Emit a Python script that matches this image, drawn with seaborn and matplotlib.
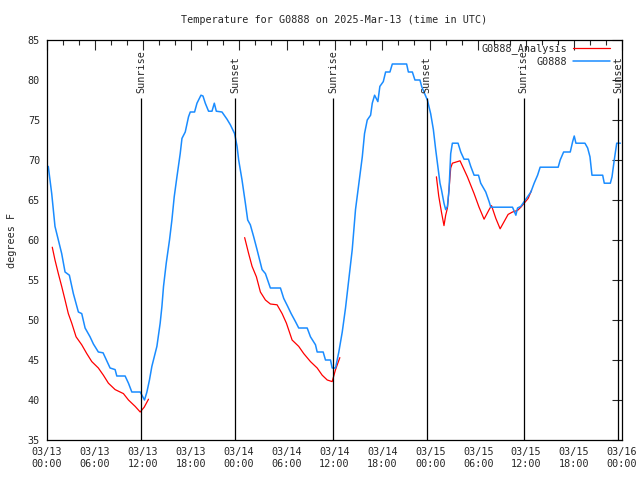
import numpy as np
import pandas as pd
import matplotlib
matplotlib.use("Agg")
import matplotlib.pyplot as plt
import matplotlib.dates as mdates
import seaborn as sns

# hours after 2025-03-13 00:00 UTC
station_hours = [0.16, 0.59, 1.0, 1.42, 1.84, 2.26, 2.8, 3.3, 3.93, 4.35, 4.77, 5.39, 5.81, 6.43, 7.02,
                 7.49, 7.9, 8.53, 8.74, 9.78, 10.2, 10.62, 11.67, 12.21, 12.51, 12.83, 13.13, 13.76,
                 14.17, 14.39, 14.59, 14.93, 15.34, 15.64, 15.93, 16.27, 16.68, 16.9, 17.31, 17.72,
                 17.94, 18.48, 18.78, 19.28, 19.53, 19.82, 20.23, 20.66, 20.95, 21.2, 21.91, 22.54,
                 22.96, 23.49, 23.8, 24.0, 24.42, 24.84, 25.13, 25.46, 25.88, 26.3, 26.93, 27.35,
                 27.63, 27.97, 29.23, 29.64, 30.14, 30.57, 31.11, 31.52, 32.58, 32.99, 33.62, 33.83,
                 34.58, 34.87, 35.5, 35.71, 36.13, 36.54, 36.97, 37.38, 37.8, 38.22, 38.63, 39.05,
                 39.48, 39.76, 40.1, 40.52, 40.73, 41.02, 41.43, 41.68, 42.11, 42.4, 42.94, 43.24,
                 45.03, 45.25, 45.75, 46.07, 46.7, 46.91, 47.2, 47.63, 48.04, 48.38, 48.67, 48.96,
                 49.21, 49.39, 49.71, 49.92, 50.14, 50.34, 50.55, 50.76, 51.47, 51.81, 52.22, 52.77,
                 53.06, 53.48, 54.03, 54.31, 54.94, 55.36, 55.57, 58.29, 58.71, 58.92, 59.33, 59.75,
                 60.17, 60.59, 61.0, 61.43, 61.75, 64.01, 64.26, 64.69, 65.52, 65.82, 66.02, 66.23,
                 67.36, 67.7, 67.99, 68.24, 69.58, 69.78, 70.54, 70.75, 71.03, 71.34, 71.79]
station_temp = [69.2, 65.8, 61.7, 60.0, 58.3, 56.0, 55.6, 53.3, 51.0, 50.8, 49.0, 47.9, 47.0, 46.0, 45.9,
                44.9, 44.0, 43.8, 43.0, 43.0, 42.1, 41.0, 41.0, 40.0, 41.0, 42.5, 44.2, 46.7,
                49.6, 51.7, 54.2, 57.1, 60.0, 62.5, 65.4, 67.9, 70.8, 72.7, 73.5, 75.4,
                76.0, 76.0, 77.1, 78.1, 78.0, 77.1, 76.1, 76.1, 77.1, 76.1, 76.0, 75.1,
                74.4, 73.3, 71.7, 70.0, 67.5, 64.6, 62.5, 61.9, 60.4, 58.8, 56.3, 55.8,
                55.0, 54.0, 54.0, 52.7, 51.7, 50.8, 49.8, 49.0, 49.0, 47.9, 46.9, 46.0,
                46.0, 45.0, 45.0, 44.0, 44.0, 46.0, 48.5, 51.5, 55.2, 58.8, 63.8, 67.1,
                70.4, 73.3, 75.0, 75.6, 77.1, 78.1, 77.3, 79.2, 79.8, 81.0, 81.0, 82.0,
                82.0, 81.0, 81.0, 80.0, 80.0, 79.2, 78.5, 77.5, 75.8, 73.8, 71.3, 69.0,
                67.1, 66.3, 64.6, 63.8, 64.2, 66.3, 70.8, 72.1, 72.1, 71.0, 70.1, 70.1,
                69.2, 68.1, 68.1, 67.1, 66.0, 64.8, 64.1, 64.1, 63.1, 64.0, 64.2, 64.8,
                65.4, 66.0, 67.1, 68.1, 69.1, 69.1, 70.0, 71.0, 71.0, 72.3, 73.0, 72.1,
                72.1, 71.5, 70.4, 68.1, 68.1, 67.1, 67.1, 67.9, 70.0, 72.1, 72.1]

# analysis series, three separate runs
analysis_hours = [
    [0.66, 1.0, 1.42, 1.84, 2.26, 2.67, 3.1, 3.64, 4.35, 4.98, 5.61, 6.43, 7.06, 7.69, 8.53,
     9.57, 10.2, 11.04, 11.67, 12.17, 12.71],
    [24.75, 25.25, 25.68, 26.22, 26.72, 27.35, 27.97, 28.81, 29.44, 29.98, 30.69, 31.52, 32.15,
     32.99, 33.83, 34.46, 35.09, 35.71, 36.13, 36.67],
    [48.76, 49.05, 49.39, 49.71, 49.92, 50.14, 50.34, 50.55, 50.76, 51.72, 52.64, 53.48, 54.1,
     54.73, 55.36, 55.66, 56.2, 56.74, 57.24, 57.74, 58.29, 58.92, 59.33, 59.75, 60.25, 60.67],
]
analysis_temp = [
    [59.1, 57.5, 55.8, 54.2, 52.5, 50.8, 49.6, 47.9, 46.9, 45.8, 44.8, 44.0, 43.1, 42.1, 41.3,
     40.8, 40.0, 39.2, 38.5, 39.1, 40.1],
    [60.3, 58.3, 56.7, 55.4, 53.5, 52.5, 52.0, 51.9, 50.8, 49.6, 47.5, 46.7, 45.8,
     44.8, 44.0, 43.1, 42.5, 42.3, 43.8, 45.3],
    [67.9, 65.5, 63.5, 61.8, 63.1, 64.0, 66.3, 69.0, 69.6, 69.9, 67.9, 65.8, 64.1,
     62.6, 63.8, 64.3, 62.7, 61.4, 62.3, 63.2, 63.5, 63.7, 64.1, 64.6, 65.2, 66.2],
]

sun_hours = [11.8, 23.6, 35.8, 47.55, 59.7, 71.5]
sun_labels = ["Sunrise", "Sunset", "Sunrise", "Sunset", "Sunrise", "Sunset"]

t0 = pd.Timestamp("2025-03-13 00:00")
to_time = lambda h: t0 + pd.to_timedelta(np.asarray(h), unit="h")

sns.set_style("white")
plt.rcParams["font.family"] = ["DejaVu Sans Mono"]
plt.rcParams["font.size"] = 7.3

fig = plt.figure(figsize=(6.4, 4.8), dpi=100)
ax = fig.add_axes([47 / 640, 40 / 480, 575 / 640, 400 / 480])

red = "#ff0000"
blue = "#1a8cff"

for i, (hh, tt) in enumerate(zip(analysis_hours, analysis_temp)):
    seg = pd.DataFrame({"time": to_time(hh), "temp": tt})
    sns.lineplot(data=seg, x="time", y="temp", ax=ax, color=red, lw=0.9,
                 label="G0888_Analysis" if i == 0 else None)

station = pd.DataFrame({"time": to_time(station_hours), "temp": station_temp})
sns.lineplot(data=station, x="time", y="temp", ax=ax, color=blue, lw=1.1, label="G0888")

# sunrise / sunset markers
for h, lab in zip(sun_hours, sun_labels):
    t = to_time([h])[0]
    ax.vlines(t, 35, 77.75, color="black", lw=0.9)
    ax.text(t, 78.4, lab, rotation=90, ha="center", va="bottom", fontsize=7.3)

ax.set_xlim(t0, t0 + pd.Timedelta(hours=72))
ax.set_ylim(35, 85)
ax.set_yticks(range(35, 86, 5))
ax.xaxis.set_major_locator(mdates.HourLocator(byhour=[0, 6, 12, 18]))
ax.xaxis.set_minor_locator(mdates.HourLocator(interval=2))
ax.xaxis.set_major_formatter(mdates.DateFormatter("%m/%d\n%H:%M"))
ax.tick_params(which="major", direction="in", length=7, width=0.8, top=True, right=True,
               labelsize=7.3, pad=5)
ax.tick_params(which="minor", direction="in", length=3.5, width=0.8, top=True)
for s in ax.spines.values():
    s.set_color("black")
    s.set_linewidth(0.9)

ax.set_xlabel("")
ax.set_ylabel("degrees F", fontsize=7.3, labelpad=8)
ax.set_title("Temperature for G0888 on 2025-Mar-13 (time in UTC)", fontsize=7.3, pad=12)

leg = ax.legend(loc="upper right", bbox_to_anchor=(1 - 5 / 575, 1 + 4 / 400), frameon=False,
                markerfirst=False, handlelength=3.6, fontsize=7.3, borderaxespad=0.3,
                labelspacing=0.25, handletextpad=0.6)

fig.savefig("out.png", dpi=100)
